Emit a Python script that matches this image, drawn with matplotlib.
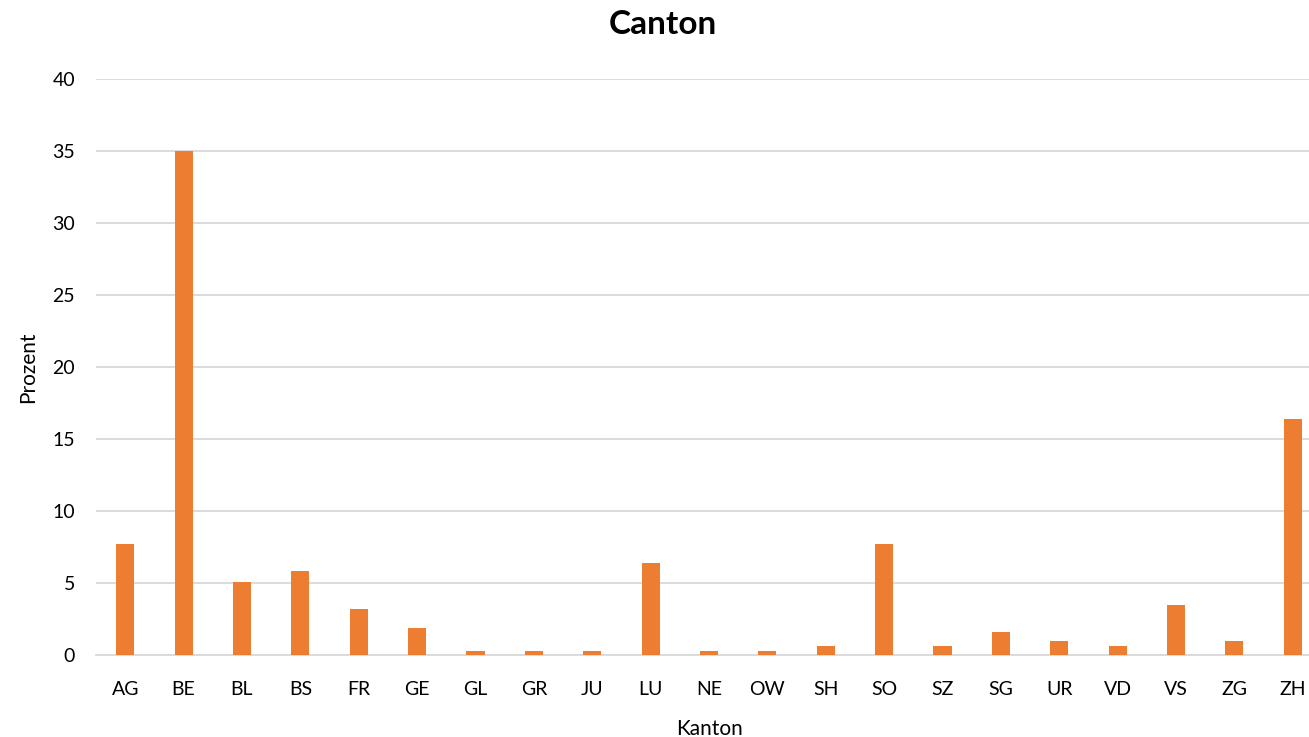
import matplotlib.pyplot as plt

kantone = ["AG", "BE", "BL", "BS", "FR", "GE", "GL", "GR", "JU", "LU", "NE",
           "OW", "SH", "SO", "SZ", "SG", "UR", "VD", "VS", "ZG", "ZH"]
prozent = [7.7, 35.0, 5.1, 5.8, 3.2, 1.9, 0.3, 0.3, 0.3, 6.4, 0.3,
           0.3, 0.6, 7.7, 0.6, 1.6, 1.0, 0.6, 3.5, 1.0, 16.4]
y_ticks = [0, 5, 10, 15, 20, 25, 30, 35, 40]

plt.rcParams['font.family'] = ['Lato', 'DejaVu Sans']

fig = plt.figure(figsize=(13.09, 7.37), dpi=100)
# plot area runs a bit past the right edge, like the original screenshot
ax = fig.add_axes([96 / 1309, 82 / 737, 1226 / 1309, 576 / 737])

x = range(len(kantone))
ax.bar(x, prozent, width=0.31, color="#ed7d31", zorder=3)

ax.set_xlim(-0.5, len(kantone) - 0.5)
ax.set_ylim(0, 40)
ax.set_yticks(y_ticks)
ax.set_xticks(list(x))
ax.set_xticklabels(kantone)
ax.grid(axis="y", color="#d9d9d9", linewidth=1.3, zorder=0)
ax.tick_params(axis="both", length=0, labelsize=14, colors="#000000")
ax.tick_params(axis="x", pad=19)
ax.tick_params(axis="y", pad=15)
for s in ["top", "right", "left"]:
    ax.spines[s].set_visible(False)
ax.spines["bottom"].set_color("#d9d9d9")
ax.spines["bottom"].set_linewidth(1.3)

ax.set_xlabel("Kanton", fontsize=15, labelpad=15)
ax.set_ylabel("Prozent", fontsize=15, labelpad=10)
fig.text(663 / 1309, 1 - 24 / 737, "Canton", fontsize=24, fontweight="bold",
         ha="center", va="center")

fig.savefig("out.png", dpi=100)
